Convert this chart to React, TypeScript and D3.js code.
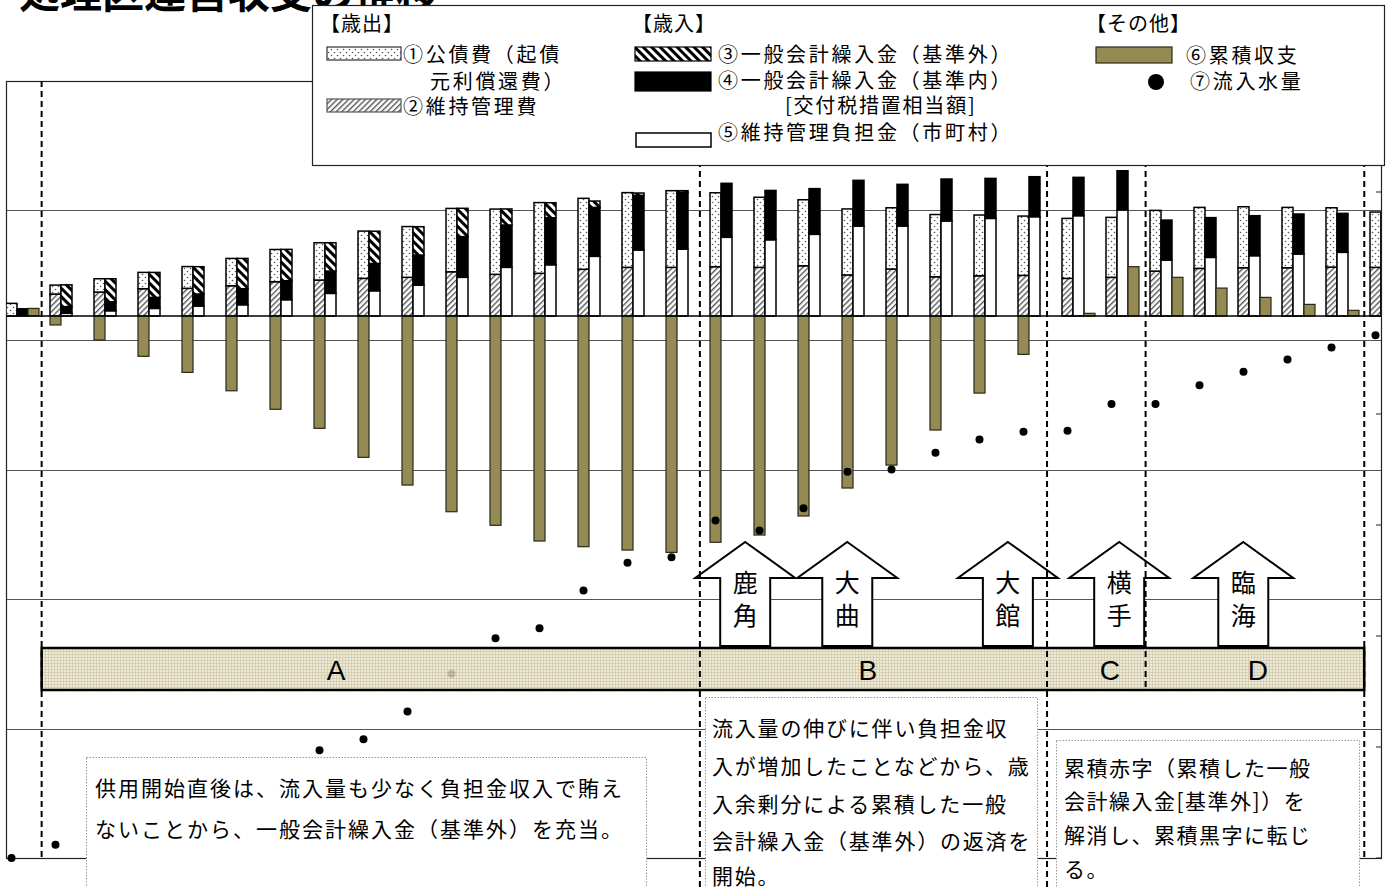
import React from 'react';
import * as d3 from 'd3';

// ---------------- data ----------------
const categories = ['1','2','3','4','5','6','7','8','9','10','11','12','13','14','15','16','17','18','19','20','21','22','23','24','25','26','27','28','29','30','31','32'];

// ① 公債費（起債元利償還費）
const debtService = [0.98,0.69,1.03,1.26,1.68,2.11,2.49,2.88,3.65,3.92,4.89,5.04,5.46,5.48,5.77,5.92,5.71,5.41,5.10,5.10,4.73,4.81,4.69,4.58,4.63,4.63,4.69,4.71,4.71,4.66,4.58,4.27];
// ② 維持管理費
const maintenance = [0,1.70,1.85,2.11,2.14,2.34,2.65,2.78,2.91,2.99,3.42,3.22,3.30,3.61,3.76,3.76,3.81,3.76,3.88,3.17,3.63,3.03,3.11,3.14,2.91,2.99,3.47,3.68,3.73,3.73,3.78,3.76];
// ③ 一般会計繰入金（基準外）
const transferExtra = [0,1.68,1.78,1.93,2.11,2.34,2.42,2.19,2.49,2.19,2.19,1.24,1.16,0.49,0.18,0.13,0,0,0,0,0,0,0,0,0,0,0,0,0,0,0,0];
// ④ 一般会計繰入金（基準内）
const transferStd = [0.56,0.52,0.69,0.85,0.93,1.24,1.47,1.72,2.11,2.32,3.14,3.27,3.63,3.78,4.22,4.38,4.17,3.81,3.53,3.53,3.22,3.24,3.09,3.09,2.96,3.03,3.09,3.07,3.09,3.09,3.01,3.00];
// ⑤ 維持管理負担金（市町村）
const municipalShare = [0,0.21,0.41,0.59,0.77,0.87,1.26,1.75,1.95,2.39,2.99,3.76,3.96,4.61,5.10,5.17,6.08,5.89,6.31,6.95,6.95,7.34,7.54,7.67,7.75,8.19,4.32,4.53,4.66,4.79,4.92,4.95];
// ⑥ 累積収支
const cumulativeBalance = [0.59,-0.69,-1.85,-3.11,-4.35,-5.77,-7.20,-8.67,-10.91,-13.05,-15.11,-16.16,-17.37,-17.81,-18.07,-18.25,-17.47,-16.91,-15.44,-13.28,-11.51,-8.80,-5.95,-2.96,0.21,3.81,2.99,2.16,1.44,0.90,0.44,0.20];
// ⑦ 流入水量 (secondary axis)
const inflow = [0,1.2,2.3,3.6,5.2,6.6,8.1,9.7,10.7,13.2,16.6,19.8,20.7,24.1,26.6,27.1,30.4,29.5,31.5,34.8,35.0,36.5,37.7,38.4,38.5,40.9,40.9,42.6,43.8,44.9,46.0,47.1];

// periods (in category units)
const periodBounds = [0.81, 15.77, 23.66, 25.9, 30.87];
const periodLabels = ['A', 'B', 'C', 'D'];
const periodLabelAt = [7.5, 19.59, 25.09, 28.45];

// treatment areas joining (arrows)
const arrowCities = ['鹿角', '大曲', '大館', '横手', '臨海'];
const arrowAt = [16.8, 19.12, 22.77, 25.3, 28.12];

const notes = [
  ['供用開始直後は、流入量も少なく負担金収入で賄え', 'ないことから、一般会計繰入金（基準外）を充当。'],
  ['流入量の伸びに伴い負担金収', '入が増加したことなどから、歳', '入余剰分による累積した一般', '会計繰入金（基準外）の返済を', '開始。'],
  ['累積赤字（累積した一般', '会計繰入金[基準外]）を', '解消し、累積黒字に転じ', 'る。'],
];

const FONT = '"Noto Sans CJK JP", "Noto Sans", sans-serif';
const OLIVE = '#948A54';

export default function App() {
  const W = 1394, H = 887;
  const plot = { left: 6, right: 1381, top: 81, bottom: 858 };
  const nSlots = 125; // 4 slots per category (3 bars + gap)
  const x = d3.scaleLinear().domain([0, nSlots]).range([plot.left, plot.right]);
  const bw = x(1) - x(0);
  const y = d3.scaleLinear().domain([-41.85, 18.15]).range([plot.bottom, plot.top]);
  const y2 = d3.scaleLinear().domain([0, 70]).range([plot.bottom, plot.top]);
  const slot = (i: number, pos: number) => i * 4 + pos;
  const catX = (c: number) => x(c * 4);

  const expRows = categories.map((_, i) => ({ maint: maintenance[i], debt: debtService[i] }));
  const revRows = categories.map((_, i) => ({ share: municipalShare[i], std: transferStd[i], extra: transferExtra[i] }));
  const expStack = d3.stack<any>().keys(['maint', 'debt'])(expRows);
  const revStack = d3.stack<any>().keys(['share', 'std', 'extra'])(revRows);
  const expFill: Record<string, string> = { maint: 'url(#pFwd)', debt: 'url(#pDots)' };
  const revFill: Record<string, string> = { share: '#fff', std: '#000', extra: 'url(#pBack)' };

  const gridVals = d3.range(y.domain()[1] - 10, y.domain()[0], -10);
  const rightTicks = y2.ticks(7);

  const dashEnds = [plot.bottom, H, H, 690, 860];
  const bandTop = 648, bandBot = 690;
  const arrowTip = 542, arrowHeadBase = 578, arrowBottom = 646, headHalf = 50, shaftHalf = 25;

  const boxes = [
    { x0: 86, x1: 646, y0: 757, tx: 95, ly: [787, 828], fs: 21, ls: 2 },
    { x0: 705, x1: 1037, y0: 697, tx: 712, ly: [727, 765, 803, 840, 875], fs: 21, ls: 1.8 },
    { x0: 1056, x1: 1359, y0: 740, tx: 1064, ly: [767, 800, 834, 868], fs: 21, ls: 1.5 },
  ];

  const arrowPath = (cx: number) => {
    const p = d3.path();
    p.moveTo(cx, arrowTip);
    p.lineTo(cx + headHalf, arrowHeadBase);
    p.lineTo(cx + shaftHalf, arrowHeadBase);
    p.lineTo(cx + shaftHalf, arrowBottom);
    p.lineTo(cx - shaftHalf, arrowBottom);
    p.lineTo(cx - shaftHalf, arrowHeadBase);
    p.lineTo(cx - headHalf, arrowHeadBase);
    p.closePath();
    return p.toString();
  };

  const legendText = { fontFamily: FONT, fontSize: 20, letterSpacing: 2.7, fill: '#000' } as any;

  return (
    <svg width={W} height={H} style={{ position: 'absolute', left: 0, top: 0, background: '#fff' }} fontFamily={FONT}>
      <defs>
        <pattern id="pDots" width="6" height="6" patternUnits="userSpaceOnUse">
          <rect width="6" height="6" fill="#fff" />
          <circle cx="1.5" cy="1.5" r="0.8" fill="#555" />
          <circle cx="4.5" cy="4.5" r="0.8" fill="#555" />
        </pattern>
        <pattern id="pFwd" width="4" height="4" patternUnits="userSpaceOnUse" patternTransform="rotate(45)">
          <rect width="4" height="4" fill="#fff" />
          <rect width="1.4" height="4" fill="#555" />
        </pattern>
        <pattern id="pBack" width="6" height="6" patternUnits="userSpaceOnUse" patternTransform="rotate(-45)">
          <rect width="6" height="6" fill="#fff" />
          <rect width="3" height="6" fill="#000" />
        </pattern>
        <pattern id="pGrid" width="3" height="3" patternUnits="userSpaceOnUse">
          <rect width="3" height="3" fill="#EAE6D0" />
          <path d="M0 0.5H3M0.5 0V3" stroke="#CFC7A6" strokeWidth="1" />
        </pattern>
        <clipPath id="plotClip">
          <rect x={plot.left} y={plot.top} width={plot.right - plot.left} height={plot.bottom - plot.top} />
        </clipPath>
      </defs>

      {/* title (cut off at top) */}
      <text x={18} y={8} fontSize={42} fontWeight="bold" fill="#000">処理区運営収支の推移</text>

      {/* gridlines */}
      {gridVals.map((v, i) => (
        <line key={'g' + i} x1={plot.left} x2={plot.right} y1={Math.round(y(v)) + 0.5} y2={Math.round(y(v)) + 0.5} stroke="#555" strokeWidth={1} />
      ))}
      {/* plot frame */}
      <rect x={plot.left + 0.5} y={plot.top + 0.5} width={plot.right - plot.left} height={plot.bottom - plot.top} fill="none" stroke="#222" strokeWidth={1.2} />
      {rightTicks.map((t, i) => (
        <line key={'rt' + i} x1={plot.right - 5} x2={plot.right} y1={y2(t)} y2={y2(t)} stroke="#222" strokeWidth={1} />
      ))}

      <g clipPath="url(#plotClip)">
        {/* expenditure stacks */}
        {expStack.map(s => s.map((d, i) => (d[1] - d[0] > 0 ? (
          <rect key={s.key + i} x={x(slot(i, 0))} width={bw} y={y(d[1])} height={y(d[0]) - y(d[1])}
            fill={expFill[s.key]} stroke="#000" strokeWidth={1.5} />
        ) : null)))}
        {/* revenue stacks */}
        {revStack.map(s => s.map((d, i) => (d[1] - d[0] > 0 ? (
          <rect key={s.key + i} x={x(slot(i, 1))} width={bw} y={y(d[1])} height={y(d[0]) - y(d[1])}
            fill={revFill[s.key]} stroke="#000" strokeWidth={1.5} />
        ) : null)))}
        {/* cumulative balance */}
        {cumulativeBalance.map((v, i) => (
          <rect key={'cb' + i} x={x(slot(i, v < 0 ? 0 : 2))} width={bw}
            y={y(Math.max(v, 0))} height={Math.abs(y(v) - y(0))}
            fill={OLIVE} stroke="#2a2818" strokeWidth={1.2} />
        ))}
      </g>
      {/* zero line */}
      <line x1={plot.left} x2={plot.right} y1={y(0)} y2={y(0)} stroke="#000" strokeWidth={1.6} />
      {/* inflow dots */}
      {inflow.map((v, i) => (
        <circle key={'d' + i} cx={x(slot(i, 0.5))} cy={y2(v)} r={4} fill="#000" />
      ))}

      {/* arrows */}
      {arrowCities.map((c, i) => {
        const cx = catX(arrowAt[i]);
        return (
          <g key={'a' + i}>
            <path d={arrowPath(cx)} fill="#fff" stroke="#000" strokeWidth={2} />
            {c.split('').map((ch, j) => (
              <text key={j} x={cx} y={581 + j * 33} fontSize={25} textAnchor="middle" dominantBaseline="central">{ch}</text>
            ))}
          </g>
        );
      })}

      {/* period band */}
      <g opacity={0.85}>
        <rect x={catX(periodBounds[0])} y={bandTop} width={catX(periodBounds[4]) - catX(periodBounds[0])} height={bandBot - bandTop} fill="url(#pGrid)" />
      </g>
      <rect x={catX(periodBounds[0])} y={bandTop} width={catX(periodBounds[4]) - catX(periodBounds[0])} height={bandBot - bandTop} fill="none" stroke="#000" strokeWidth={2.5} />
      {periodLabels.map((l, i) => (
        <text key={'pl' + i} x={catX(periodLabelAt[i])} y={(bandTop + bandBot) / 2 + 1} fontFamily='"Liberation Sans", Arial, sans-serif' fontSize={28} textAnchor="middle" dominantBaseline="central">{l}</text>
      ))}

      {/* period boundaries */}
      {periodBounds.map((b, i) => (
        <line key={'pb' + i} x1={catX(b)} x2={catX(b)} y1={plot.top} y2={dashEnds[i]} stroke="#000" strokeWidth={2} strokeDasharray="6 4" />
      ))}

      {/* notes */}
      {boxes.map((bx, i) => (
        <g key={'n' + i}>
          <rect x={bx.x0 + 0.5} y={bx.y0 + 0.5} width={bx.x1 - bx.x0} height={H + 10 - bx.y0} fill="#fff" stroke="#999" strokeWidth={1} strokeDasharray="1.5 1.5" />
          {notes[i].map((ln, j) => (
            <text key={j} x={bx.tx} y={bx.ly[j]} fontSize={bx.fs} letterSpacing={bx.ls} dominantBaseline="central">{ln}</text>
          ))}
        </g>
      ))}

      {/* legend */}
      <g>
        <rect x={312.5} y={5.5} width={1072} height={160} fill="#fff" stroke="#222" strokeWidth={1.2} />
        <text {...legendText} x={320} y={22} dominantBaseline="central" letterSpacing={1}>【歳出】</text>
        <rect x={327} y={47} width={74} height={13} fill="url(#pDots)" stroke="#333" strokeWidth={1.2} />
        <text {...legendText} x={403} y={53} dominantBaseline="central">①公債費（起債</text>
        <text {...legendText} x={430} y={80} dominantBaseline="central">元利償還費）</text>
        <rect x={327} y={99} width={74} height={13} fill="url(#pFwd)" stroke="#555" strokeWidth={1.2} />
        <text {...legendText} x={403} y={105} dominantBaseline="central">②維持管理費</text>

        <text {...legendText} x={632} y={22} dominantBaseline="central" letterSpacing={1}>【歳入】</text>
        <rect x={635} y={47} width={76} height={14} fill="url(#pBack)" stroke="#000" strokeWidth={1.2} />
        <text {...legendText} x={718} y={53} dominantBaseline="central">③一般会計繰入金（基準外）</text>
        <rect x={635} y={72} width={76} height={19} fill="#000" stroke="#000" strokeWidth={1.2} />
        <text {...legendText} x={718} y={79} dominantBaseline="central">④一般会計繰入金（基準内）</text>
        <text {...legendText} x={785} y={104} dominantBaseline="central" letterSpacing={1.8}>[交付税措置相当額]</text>
        <rect x={636} y={133} width={75} height={14} fill="#fff" stroke="#000" strokeWidth={1.5} />
        <text {...legendText} x={718} y={131} dominantBaseline="central">⑤維持管理負担金（市町村）</text>

        <text {...legendText} x={1086} y={22} dominantBaseline="central" letterSpacing={1}>【その他】</text>
        <rect x={1096} y={47} width={76} height={16} fill={OLIVE} stroke="#2a2818" strokeWidth={1.2} />
        <text {...legendText} x={1186} y={54} dominantBaseline="central">⑥累積収支</text>
        <circle cx={1156} cy={82} r={8} fill="#000" />
        <text {...legendText} x={1190} y={80} dominantBaseline="central">⑦流入水量</text>
      </g>
    </svg>
  );
}
